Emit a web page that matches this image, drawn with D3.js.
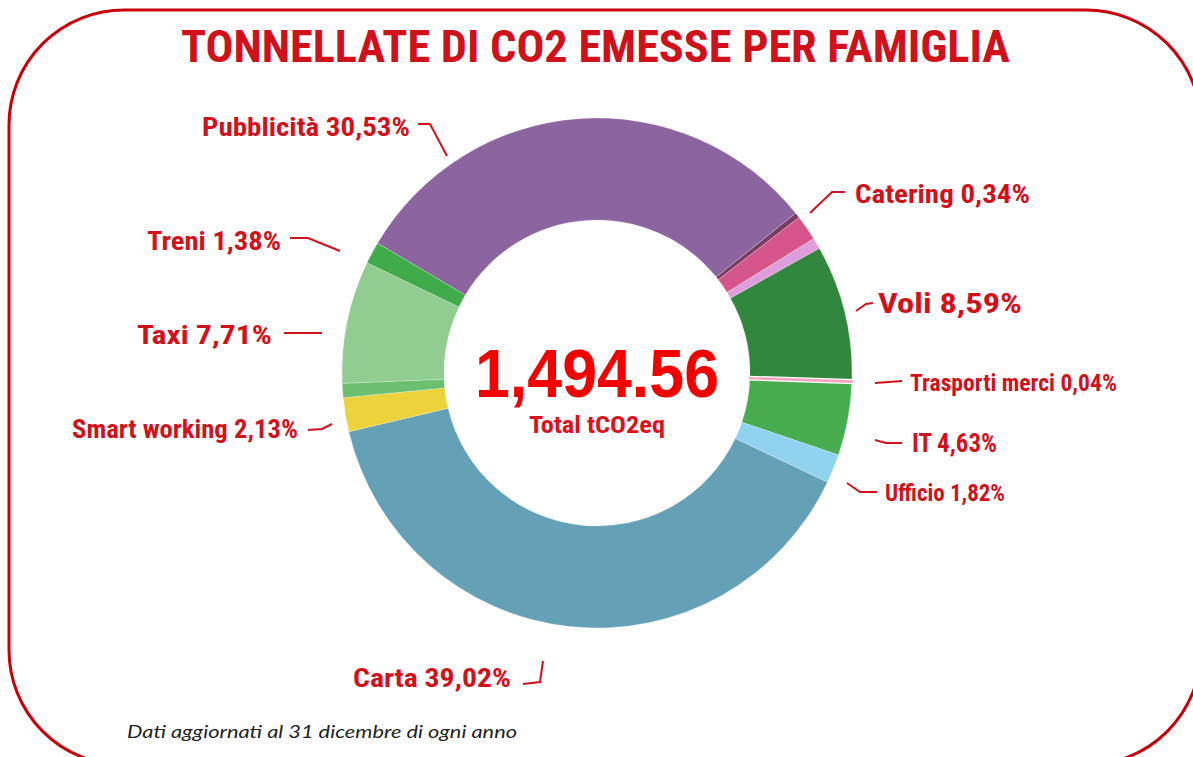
<!DOCTYPE html>
<html>
<head>
<meta charset="utf-8">
<script src="https://cdn.jsdelivr.net/npm/d3@7"></script>
<style>
  html, body { margin: 0; padding: 0; background: #ffffff; }
  svg { display: block; }
</style>
</head>
<body>
<svg id="chart" width="1193" height="757"></svg>
<script>
// Emission shares per category (percent of total tCO2eq), clockwise from "Pubblicità".
// Empty names are small unlabelled slices.
const sliceNames = ["Pubblicità", "Catering", "", "", "Voli", "Trasporti merci", "IT",
                    "Ufficio", "Carta", "Smart working", "", "Taxi", "Treni"];
const sliceShares = [30.53, 0.34, 1.6, 0.7, 8.59, 0.04, 4.63, 1.82, 39.02, 2.13, 0.9, 7.71, 1.38];
const sliceColors = ["#8c64a0", "#7b3b63", "#d5548a", "#df9ddc", "#32873f", "#f2a4bd", "#46ac4e",
                     "#8fd3ef", "#65a1b6", "#ecd33b", "#6cbf6f", "#91cd91", "#3fab4a"];
const totalValue = 1494.56;
const titleText = "TONNELLATE DI CO2 EMESSE PER FAMIGLIA";
const unitText = "Total tCO2eq";
const footerText = "Dati aggiornati al 31 dicembre di ogni anno";

// Label placement: text anchor point, fitted width, font size and leader polyline.
const labelLayout = {
  "Pubblicità":      { x: 202, y: 136, w: 208, fs: 26, line: [[418,124],[430,124],[447,156]] },
  "Catering":        { x: 855, y: 203, w: 175, fs: 26, line: [[845,192],[832,192],[810,213]] },
  "Voli":            { x: 878, y: 313, w: 144, fs: 28, line: [[856,311],[866,304],[873,303]] },
  "Trasporti merci": { x: 910, y: 391, w: 207, fs: 23, line: [[875,383],[902,381]] },
  "IT":              { x: 912, y: 452, w: 85,  fs: 25, line: [[875,440],[886,443],[902,443]] },
  "Ufficio":         { x: 885, y: 501, w: 120, fs: 23, line: [[847,483],[860,492],[877,492]] },
  "Carta":           { x: 353, y: 687, w: 158, fs: 26, line: [[523,684],[540,682],[543,661]] },
  "Smart working":   { x: 72,  y: 438, w: 226, fs: 26, line: [[308,430],[322,429],[332,424]] },
  "Taxi":            { x: 137, y: 344, w: 135, fs: 26, line: [[284,333],[322,333]] },
  "Treni":           { x: 147, y: 250, w: 134, fs: 26, line: [[290,238],[308,238],[340,251]] }
};

const svg = d3.select("#chart");
const W = 1193, H = 757;
const labelRed = "#d2121b";
const condensed = "'Liberation Sans Narrow', 'Roboto Condensed', 'Arial Narrow', 'DejaVu Sans Condensed', Roboto, sans-serif";

svg.append("rect").attr("width", W).attr("height", H).attr("fill", "#ffffff");

// Rounded red frame (partly running past the canvas edge)
svg.append("rect")
  .attr("x", 9).attr("y", 10).attr("width", 1192).attr("height", 755)
  .attr("rx", 115).attr("ry", 115)
  .attr("fill", "none").attr("stroke", "#c9000c").attr("stroke-width", 3);

// Title
svg.append("text")
  .attr("x", 181).attr("y", 62)
  .attr("textLength", 829).attr("lengthAdjust", "spacingAndGlyphs")
  .style("font-family", condensed).style("font-weight", "700").style("font-size", "44px")
  .attr("fill", "#d0101a")
  .text(titleText);

// Donut
const cx = 597, cy = 373, rOuter = 255, rInner = 153;
const startDeg = -59.4;
const pie = d3.pie().sort(null).value(d => d.v)
  .startAngle(startDeg * Math.PI / 180)
  .endAngle(startDeg * Math.PI / 180 + 2 * Math.PI);
const arc = d3.arc().innerRadius(rInner).outerRadius(rOuter);

const slices = sliceShares.map((v, i) => ({ v, name: sliceNames[i], color: sliceColors[i] }));
const arcs = pie(slices);

const g = svg.append("g").attr("transform", `translate(${cx},${cy})`);
g.selectAll("path.slice")
  .data(arcs)
  .join("path")
  .attr("class", "slice")
  .attr("d", arc)
  .attr("fill", d => d.data.color)
  .attr("stroke", "rgba(255,255,255,0.35)")
  .attr("stroke-width", 0.7);

// Hair-thin slice ("Trasporti merci") drawn with a white halo and coloured stroke so it stays visible
const thin = arcs.filter(d => d.data.name === "Trasporti merci");
g.selectAll("path.thin-halo").data(thin).join("path")
  .attr("class", "thin-halo").attr("d", arc)
  .attr("fill", "#ffffff").attr("stroke", "#ffffff").attr("stroke-width", 4.5);
g.selectAll("path.thin").data(thin).join("path")
  .attr("class", "thin").attr("d", arc)
  .attr("fill", d => d.data.color).attr("stroke", d => d.data.color).attr("stroke-width", 2);

// Centre total
g.append("text")
  .attr("x", 0).attr("y", 24)
  .attr("text-anchor", "middle")
  .attr("textLength", 244).attr("lengthAdjust", "spacingAndGlyphs")
  .style("font-family", "'Liberation Sans', Arial, sans-serif").style("font-weight", "700").style("font-size", "68px")
  .attr("fill", "#f50000")
  .text(d3.format(",.2f")(totalValue));
g.append("text")
  .attr("x", 0).attr("y", 60)
  .attr("text-anchor", "middle")
  .attr("textLength", 136).attr("lengthAdjust", "spacingAndGlyphs")
  .style("font-family", condensed).style("font-weight", "700").style("font-size", "24px")
  .attr("fill", "#df101a")
  .text(unitText);

// Labels with leader lines
const pct = v => d3.format(".2f")(v).replace(".", ",") + "%";
const labelled = arcs.filter(d => d.data.name && labelLayout[d.data.name]);
const lineGen = d3.line();

svg.append("g").selectAll("path.leader")
  .data(labelled)
  .join("path")
  .attr("class", "leader")
  .attr("d", d => lineGen(labelLayout[d.data.name].line))
  .attr("fill", "none").attr("stroke", labelRed).attr("stroke-width", 2);

svg.append("g").selectAll("text.label")
  .data(labelled)
  .join("text")
  .attr("class", "label")
  .attr("x", d => labelLayout[d.data.name].x)
  .attr("y", d => labelLayout[d.data.name].y)
  .attr("textLength", d => labelLayout[d.data.name].w)
  .attr("lengthAdjust", "spacingAndGlyphs")
  .style("font-family", condensed).style("font-weight", "700")
  .style("font-size", d => labelLayout[d.data.name].fs + "px")
  .attr("fill", labelRed)
  .text(d => `${d.data.name} ${pct(d.data.v)}`);

// Footer note
svg.append("text")
  .attr("x", 127).attr("y", 738)
  .attr("textLength", 390).attr("lengthAdjust", "spacingAndGlyphs")
  .style("font-family", "Lato, 'Open Sans', sans-serif").style("font-style", "italic").style("font-size", "17px")
  .attr("fill", "#222222")
  .text(footerText);
</script>
</body>
</html>
